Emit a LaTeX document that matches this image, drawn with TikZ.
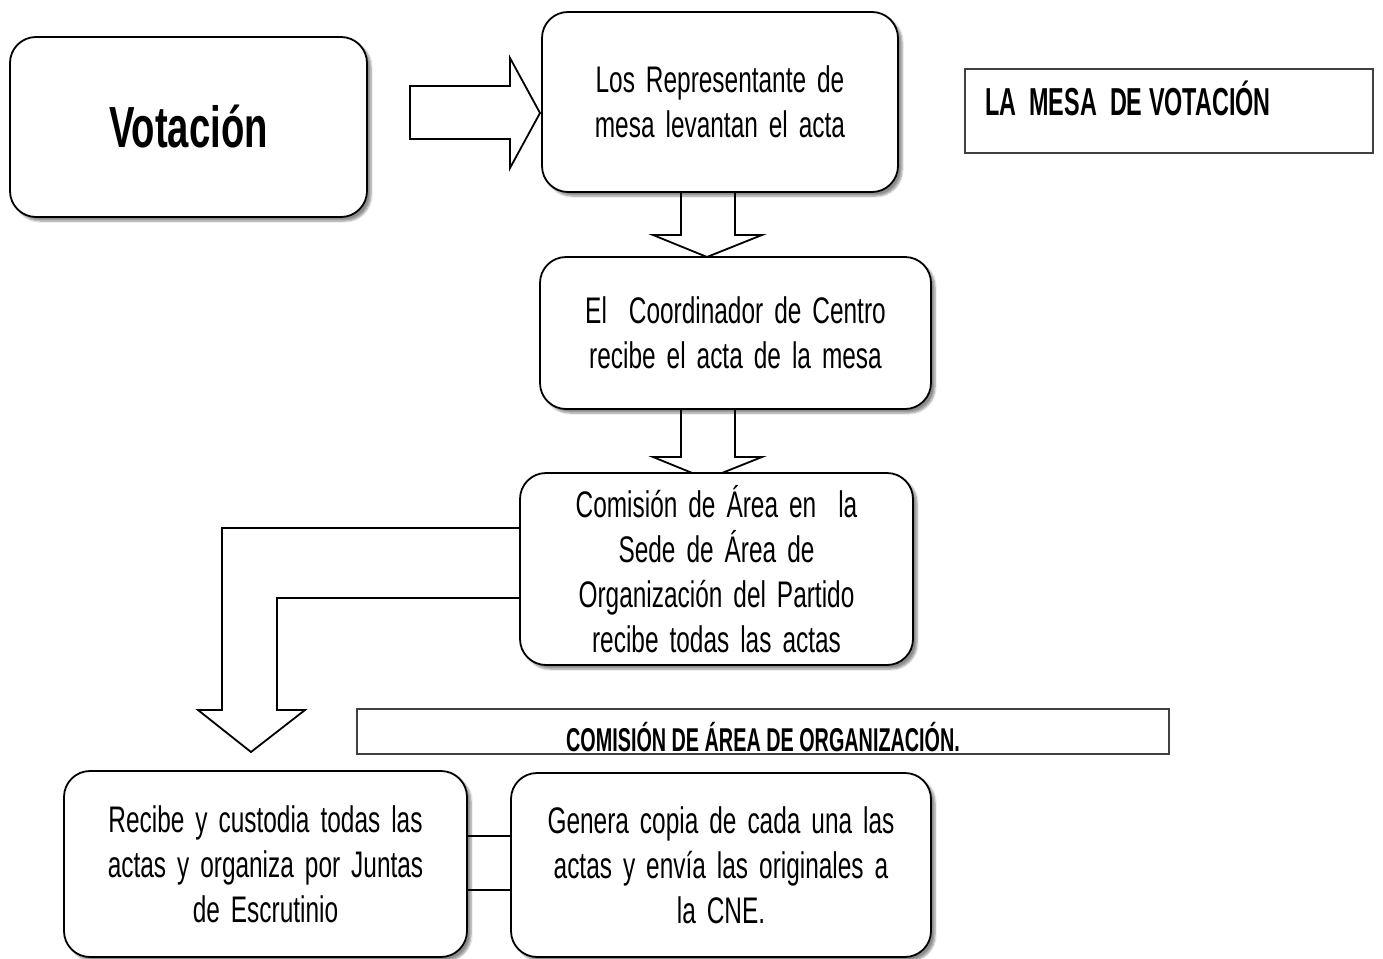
\documentclass[tikz,border=0pt]{standalone}
\usepackage{fontspec}
\setmainfont[FakeStretch=0.66]{Liberation Sans}
\newfontfamily\hdfont[FakeStretch=0.6]{Liberation Sans}
\newfontfamily\votfont[FakeStretch=0.66]{Liberation Sans}
\newcommand\mywidesp{\spaceskip=11pt plus 2pt\relax}
\usetikzlibrary{shadows.blur,calc}
\begin{document}
\begin{tikzpicture}[x=1pt,y=-1pt,
  flowbox/.style={draw=black, line width=1.8pt, rounded corners=26pt, fill=white,
    blur shadow={shadow xshift=4pt, shadow yshift=-4pt, shadow blur steps=6, shadow opacity=45},
    align=center, font=\fontsize{37}{45}\selectfont\mywidesp, inner sep=0pt},
  labelbox/.style={draw=black!75, line width=1.1pt, fill=white},
  blockarrow/.style={draw=black, line width=1.8pt, line join=miter},
  link/.style={draw=black, line width=1.8pt}]
\useasboundingbox (0,0) rectangle (1383,958);

% block arrows (drawn first, boxes cover their tips)
\draw[blockarrow] (410,86) -- (510,86) -- (510,58) -- (540,113) -- (510,168) -- (510,139) -- (410,139) -- cycle;
\draw[blockarrow] (681,192) -- (681,235) -- (653,235) -- (707,257) -- (762,235) -- (735,235) -- (735,192);
\draw[blockarrow] (681,409) -- (681,457) -- (653,457) -- (707,479) -- (762,457) -- (735,457) -- (735,409);
\draw[blockarrow] (520,528) -- (222,528) -- (222,710) -- (198,710) -- (251,752) -- (305,710) -- (277,710) -- (277,598) -- (520,598);

\node[flowbox, minimum width=357pt, minimum height=180pt] (vot) at (188.5,127)
  {\votfont\bfseries\fontsize{58}{60}\selectfont Votación};
\node[flowbox, minimum width=356pt, minimum height=180pt] (b1) at (720,102)
  {Los Representante de\\mesa levantan el acta};
\node[flowbox, minimum width=391pt, minimum height=152pt] (b2) at (735.5,333)
  {El \ Coordinador de Centro\\recibe el acta de la mesa};
\node[flowbox, minimum width=393pt, minimum height=192pt] (b3) at (716.5,569)
  {Comisión de Área en \ la\\Sede de Área de\\Organización del Partido\\recibe todas las actas};
\node[flowbox, minimum width=403pt, minimum height=186pt] (b4) at (265.5,864)
  {Recibe y custodia todas las\\actas y organiza por Juntas\\de Escrutinio};
\node[flowbox, minimum width=420pt, minimum height=184pt] (b5) at (721,865)
  {Genera copia de cada una las\\actas y envía las originales a\\la CNE.};

\node[labelbox, minimum width=408pt, minimum height=84pt] (mesa) at (1169,111) {};
\node[anchor=base west, inner sep=0pt, font=\hdfont\bfseries\fontsize{39}{44}\selectfont] (mesat) at (985,115) {LA \ MESA \ DE VOTACIÓN};
\node[labelbox, minimum width=812pt, minimum height=45pt] (com) at (763,731.5) {};
\node[anchor=base, inner sep=0pt, font=\hdfont\bfseries\fontsize{33}{36}\selectfont] (comt) at (763,751) {COMISIÓN DE ÁREA DE ORGANIZACIÓN.};

\coordinate (ya) at (0,836);
\coordinate (yb) at (0,890);
\draw[link] (b4.east |- ya) -- (b5.west |- ya);
\draw[link] (b4.east |- yb) -- (b5.west |- yb);
\end{tikzpicture}
\end{document}
